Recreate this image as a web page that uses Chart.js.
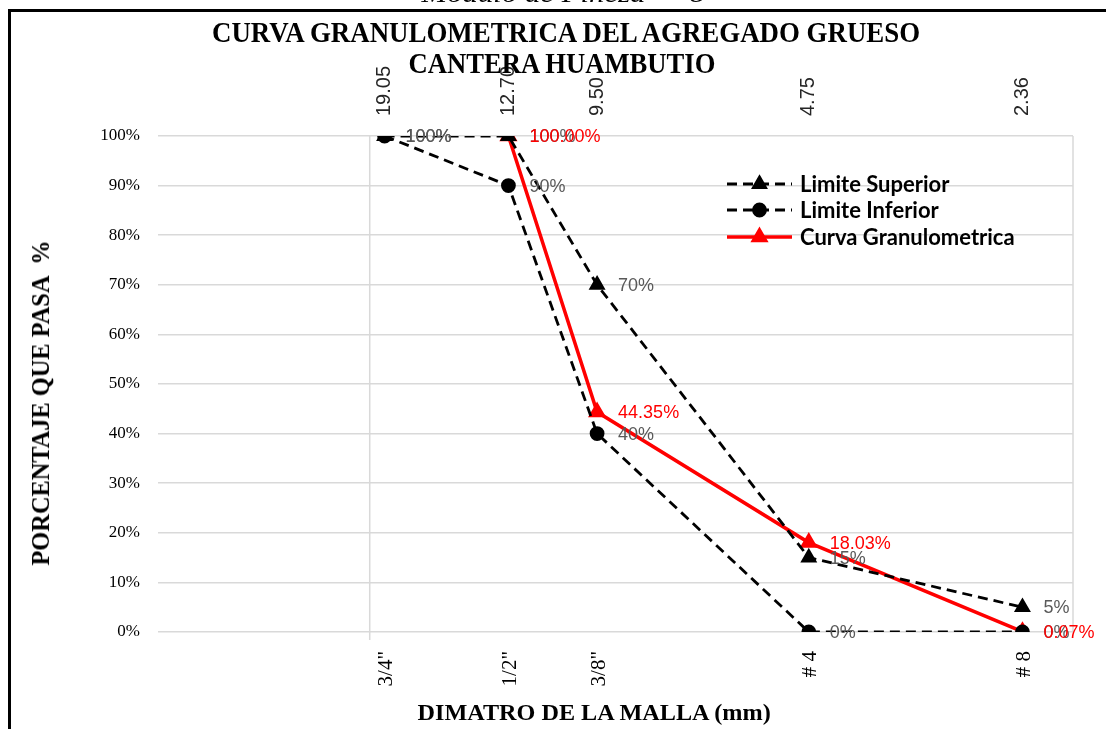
<!DOCTYPE html>
<html>
<head>
<meta charset="utf-8">
<script src="https://cdn.jsdelivr.net/npm/chart.js@4.4.1/dist/chart.umd.min.js"></script>
<style>
  html, body { margin: 0; padding: 0; background: #fff; }
  #wrap { position: relative; width: 1106px; height: 729px; overflow: hidden; }
  #frame { position: absolute; left: 8px; top: 9px; width: 1200px; height: 800px;
           border-left: 3px solid #000; border-top: 3px solid #000; }
  #box { position: absolute; left: 0; top: 0; width: 1106px; height: 729px; }
  .txt { position: absolute; left: 0; top: 0; white-space: pre; line-height: 1;
         transform-origin: 0 0; color: #000; font-family: "Liberation Serif", "Times New Roman", serif; }
  .bold { font-weight: bold; }
</style>
</head>
<body>
<div id="wrap">
  <div id="frame"></div>
  <div id="box"><canvas id="granChart"></canvas></div>
  <div class="txt" id="fineza" style="font-style: italic; font-size: 26px;">Modulo de Fineza  = 8</div>
  <div class="txt bold" id="t1" style="font-size: 30px;">CURVA GRANULOMETRICA DEL AGREGADO GRUESO</div>
  <div class="txt bold" id="t2" style="font-size: 30px;">CANTERA HUAMBUTIO</div>
  <div class="txt bold" id="xTitle" style="font-size: 24px;">DIMATRO DE LA MALLA (mm)</div>
  <div class="txt bold" id="yTitle" style="font-size: 26px;">PORCENTAJE QUE PASA  %</div>
</div>
<script>
// tamices (mm) y su nombre
const sieveMm = [19.05, 12.70, 9.50, 4.75, 2.36];
const sieveNames = ['3/4"', '1/2"', '3/8"', '# 4', '# 8'];

// % que pasa
const limiteSuperior = [100, 100, 70, 15, 5];
const limiteInferior = [100, 90, 40, 0, 0];
const curvaGranulometrica = [null, 100, 44.35, 18.03, 0.07];

const yTicks = [0, 10, 20, 30, 40, 50, 60, 70, 80, 90, 100];
const xMin = 2, xMax = 40, yCrossAt = 20;

function toPoints(arr) {
  return sieveMm.map((x, i) => ({ x: x, y: arr[i] })).filter(p => p.y !== null);
}

// etiquetas de datos
const pointLabels = {
  id: 'pointLabels',
  afterDatasetsDraw(chart) {
    const ctx = chart.ctx;
    chart.data.datasets.forEach((ds, i) => {
      const meta = chart.getDatasetMeta(i);
      ctx.save();
      ctx.font = '18px "Liberation Sans", Arial, sans-serif';
      ctx.fillStyle = ds.labelColor;
      ctx.textBaseline = 'middle';
      meta.data.forEach((pt, j) => {
        const v = ds.data[j].y;
        ctx.fillText(v.toFixed(ds.decimals) + '%', pt.x + 21, pt.y + 1);
      });
      ctx.restore();
    });
  }
};

// linea del eje vertical (cruce en 20 mm) y borde derecho
const axisLines = {
  id: 'axisLines',
  beforeDatasetsDraw(chart) {
    const ctx = chart.ctx, a = chart.chartArea;
    const x = chart.scales.x.getPixelForValue(yCrossAt);
    ctx.save();
    ctx.strokeStyle = '#d9d9d9';
    ctx.lineWidth = 1.5;
    ctx.beginPath();
    ctx.moveTo(x, a.top);
    ctx.lineTo(x, a.bottom + 8);
    ctx.moveTo(a.right, a.top);
    ctx.lineTo(a.right, a.bottom);
    ctx.stroke();
    ctx.restore();
  }
};

// leyenda al estilo excel (linea + marcador)
const excelLegend = {
  id: 'excelLegend',
  afterDraw(chart) {
    const ctx = chart.ctx;
    const x0 = 727, x1 = 792, tx = 800;
    const rows = [184, 210, 237];
    chart.data.datasets.forEach((ds, i) => {
      const y = rows[i];
      ctx.save();
      ctx.strokeStyle = ds.borderColor;
      ctx.lineWidth = ds.borderWidth;
      ctx.setLineDash(ds.borderDash || []);
      ctx.beginPath();
      ctx.moveTo(x0, y);
      ctx.lineTo(x1, y);
      ctx.stroke();
      ctx.setLineDash([]);
      ctx.fillStyle = ds.pointBackgroundColor;
      ctx.strokeStyle = ds.pointBorderColor;
      Chart.helpers.drawPoint(ctx, { pointStyle: ds.pointStyle, radius: ds.pointRadius, rotation: 0, borderWidth: 1 }, (x0 + x1) / 2, y);
      ctx.fillStyle = '#000';
      ctx.font = 'bold 22px Lato, "Open Sans", sans-serif';
      ctx.textBaseline = 'middle';
      ctx.fillText(ds.label, tx, y + 1);
      ctx.restore();
    });
  }
};

new Chart(document.getElementById('granChart'), {
  type: 'line',
  data: {
    datasets: [{
      label: 'Limite Superior',
      data: toPoints(limiteSuperior),
      borderColor: '#000',
      borderWidth: 2.8,
      borderDash: [10, 6],
      pointStyle: 'triangle',
      pointRadius: 7,
      pointBackgroundColor: '#000',
      pointBorderColor: '#000',
      labelColor: '#595959',
      decimals: 0
    }, {
      label: 'Limite Inferior',
      data: toPoints(limiteInferior),
      borderColor: '#000',
      borderWidth: 2.8,
      borderDash: [10, 6],
      pointStyle: 'circle',
      pointRadius: 6,
      pointBackgroundColor: '#000',
      pointBorderColor: '#000',
      labelColor: '#595959',
      decimals: 0
    }, {
      label: 'Curva Granulometrica',
      data: toPoints(curvaGranulometrica),
      borderColor: '#ff0000',
      borderWidth: 3.5,
      pointStyle: 'triangle',
      pointRadius: 7,
      pointBackgroundColor: '#ff0000',
      pointBorderColor: '#ff0000',
      labelColor: '#ff0000',
      decimals: 2
    }]
  },
  options: {
    responsive: true,
    maintainAspectRatio: false,
    animation: false,
    layout: { padding: { left: 12, right: 33, top: 0, bottom: 0 } },
    plugins: { legend: { display: false }, tooltip: { enabled: false } },
    scales: {
      x: {
        type: 'logarithmic',
        position: 'bottom',
        reverse: true,
        min: xMin,
        max: xMax,
        grid: { display: false },
        border: { display: false },
        afterBuildTicks: s => { s.ticks = sieveMm.map(v => ({ value: v })); },
        afterFit: s => { s.height = 97; },
        ticks: {
          autoSkip: false,
          minRotation: 90,
          maxRotation: 90,
          padding: 11,
          labelOffset: 2,
          color: '#000',
          font: { family: '"Liberation Serif", serif', size: 21 },
          callback: (v, i) => sieveNames[i]
        }
      },
      x2: {
        type: 'logarithmic',
        position: 'top',
        reverse: true,
        min: xMin,
        max: xMax,
        grid: { display: false },
        border: { display: false },
        afterBuildTicks: s => { s.ticks = sieveMm.map(v => ({ value: v })); },
        afterFit: s => { s.height = 136; },
        ticks: {
          autoSkip: false,
          minRotation: 90,
          maxRotation: 90,
          padding: 12,
          labelOffset: 24,
          color: '#262626',
          font: { family: '"Liberation Sans", Arial, sans-serif', size: 20 },
          callback: v => Number(v).toFixed(2)
        }
      },
      y: {
        min: 0,
        max: 100,
        afterBuildTicks: s => { s.ticks = yTicks.map(v => ({ value: v })); },
        afterFit: s => { s.width = 146; },
        grid: { color: '#d9d9d9', lineWidth: 1.5, drawTicks: false },
        border: { display: false },
        ticks: {
          padding: 18,
          color: '#000',
          font: { family: '"Liberation Serif", serif', size: 17 },
          callback: v => v + '%'
        }
      }
    }
  },
  plugins: [axisLines, pointLabels, excelLegend]
});

// textos html: ajustar ancho y centrar
function place(id, cx, top, width) {
  const el = document.getElementById(id);
  const s = width / el.offsetWidth;
  el.style.transform = 'translate(' + (cx - width / 2) + 'px,' + top + 'px) scaleX(' + s + ')';
}
function placeVertical(id, cx, cy, length) {
  const el = document.getElementById(id);
  const s = length / el.offsetWidth;
  const h = el.offsetHeight;
  el.style.transform = 'translate(' + (cx - h / 2) + 'px,' + (cy + length / 2) + 'px) rotate(-90deg) scaleX(' + s + ')';
}
place('fineza', 563, -19, 283);
place('t1', 566, 17, 708);
place('t2', 562, 48, 307);
place('xTitle', 594, 700, 353);
placeVertical('yTitle', 41, 403, 325);
</script>
</body>
</html>
